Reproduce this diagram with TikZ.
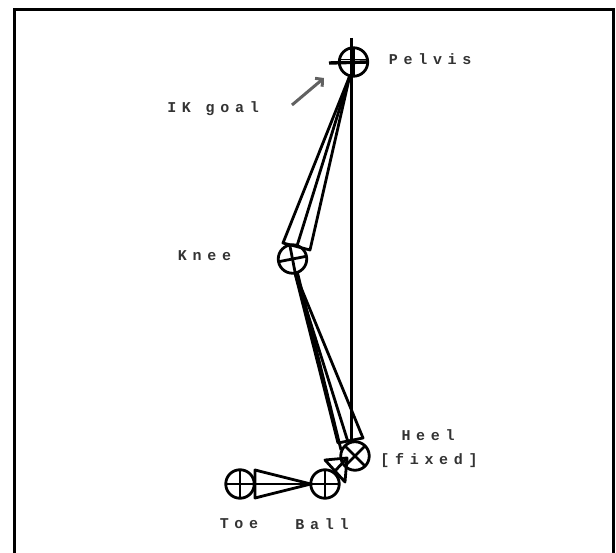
\documentclass[tikz,border=0pt]{standalone}
\usepackage{fontspec}
\setmainfont{Liberation Mono}[LetterSpace=38]
\usetikzlibrary{arrows.meta,positioning}

\begin{document}
\begin{tikzpicture}[
    x=1pt, y=-1pt,
    joint/.style={circle, draw=black, minimum size=28.5pt, inner sep=0pt, outer sep=0pt, line width=2.8pt},
    bone/.style={draw=black, line width=2.8pt, line join=round},
    lbl/.style={font=\fontsize{15}{17}\selectfont\bfseries, inner sep=0pt, text=black!80},
    goal/.style={-{Straight Barb[length=5pt,width=11pt,line width=3pt]}, line width=3pt, draw=black!62}
]
\useasboundingbox (0,0) rectangle (616,553);

% frame, open at the bottom
\coordinate (frameA) at (14.5,553);
\coordinate (frameB) at (14.5,9.5);
\coordinate (frameC) at (613.5,9.5);
\coordinate (frameD) at (613.5,553);
\draw[line width=3pt, line join=miter] (frameA) -- (frameB) -- (frameC) -- (frameD);

% joints
\node[joint] (pelvis) at (353.5,62) {};
\node[joint] (knee) at (292.5,259) {};
\node[joint] (heel) at (355,456) {};
\node[joint] (ball) at (325,484) {};
\node[joint] (toe) at (240,484) {};

% crosses
\coordinate (pelvisTop) at (351.7,38);
\coordinate (pelvisLeft) at (329,63);
\draw[bone, line width=3.4pt] (pelvisLeft) -- (pelvis.east);
\draw[bone] (pelvis.north) -- (pelvis.south);
\draw[bone, line width=1.5pt] (pelvis.170) -- (pelvis.10);
\draw[bone] (knee.101) -- (knee.281);
\draw[bone] (knee.191) -- (knee.11);
\draw[bone] (heel.45) -- (heel.225);
\draw[bone] (heel.135) -- (heel.315);
\draw[bone] (ball.north) -- (ball.south);
\draw[bone] (ball.west) -- (ball.east);
\draw[bone] (toe.north) -- (toe.south);
\draw[bone] (toe.west) -- (toe.east);

% thigh
\coordinate (thighL) at (283,243);
\coordinate (thighM) at (297,246);
\coordinate (thighR) at (310,250);
\draw[bone] (pelvis.255) -- (thighL) -- (thighR) -- cycle;
\draw[bone] (pelvis.255) -- (thighM);

% shin
\coordinate (shinL) at (338,443);
\coordinate (shinM) at (348,442);
\coordinate (shinR) at (363,438);
\coordinate (shinX) at (341,450);
\draw[bone] (knee.280) -- (shinL) -- (shinR) -- cycle;
\draw[bone] (knee.280) -- (shinM);
\draw[bone] (knee.290) -- (shinX);

% straight line down to the heel
\coordinate (lineEnd) at (351.7,443);
\draw[bone, line width=3.4pt] (pelvisTop) -- (lineEnd);

% foot
\coordinate (footA) at (325,460);
\coordinate (footB) at (345,482);
\coordinate (footM) at (335,471);
\coordinate (footTip) at (347,458);
\draw[bone] (footTip) -- (footA) -- (footB) -- cycle;
\draw[bone] (footTip) -- (footM);

% toes
\coordinate (toeA) at (255,470);
\coordinate (toeB) at (255,498);
\draw[bone] (ball.west) -- (toeA) -- (toeB) -- cycle;
\draw[bone] (ball.west) -- (toe.east);

% goal arrow
\coordinate (goalTail) at (292,105);
\coordinate (goalTip) at (324,78);
\draw[goal] (goalTail) -- (goalTip);

% labels
\node[lbl, right=21pt of pelvis, yshift=3pt] (pelvisLbl) {Pelvis};
\node[lbl, left=33pt of goalTail, yshift=-4pt] (goalLbl) {IK goal};
\node[lbl, left=47pt of knee, yshift=3pt] (kneeLbl) {Knee};
\node[lbl, right=11pt of heel, yshift=-5pt] (fixedLbl) {[fixed]};
\node[lbl, above=13pt of fixedLbl, xshift=-1pt] (heelLbl) {Heel};
\node[lbl, below=20pt of toe, xshift=-1pt] (toeLbl) {Toe};
\node[lbl, below=20pt of ball, xshift=-3pt] (ballLbl) {Ball};

\end{tikzpicture}
\end{document}
